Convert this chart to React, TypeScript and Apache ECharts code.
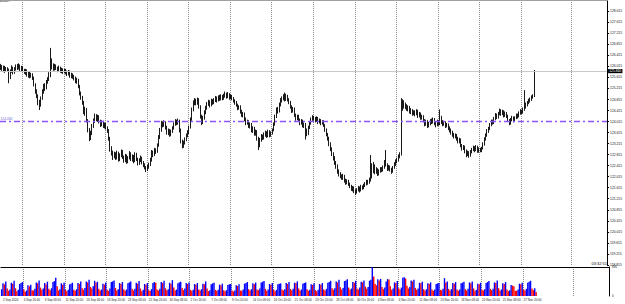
import React, { useEffect, useRef } from 'react';
import * as echarts from 'echarts';

// EURJPY H4 bars: [open, close, low, high], one line per trading day
const candles: number[][] = [
[125.95,126.02,125.88,126.10],[126.02,125.92,125.85,126.06],[125.92,125.98,125.80,126.04],[125.98,125.86,125.78,126.03],[125.86,125.94,125.82,125.99],
[125.94,125.90,125.84,125.98],[125.90,125.62,125.40,125.93],[125.62,125.85,125.55,125.90],[125.85,125.96,125.78,126.05],[125.96,125.80,125.72,126.00],[125.80,125.92,125.74,125.98],
[125.92,126.02,125.86,126.08],[126.02,125.94,125.88,126.10],[125.94,126.05,125.90,126.12],[126.05,125.90,125.84,126.08],[125.90,125.98,125.82,126.03],[125.98,125.88,125.80,126.02],
[125.88,125.80,125.74,125.92],[125.80,125.86,125.70,125.92],[125.86,125.72,125.64,125.90],[125.72,125.78,125.60,125.84],[125.78,125.66,125.58,125.82],[125.66,125.72,125.60,125.78],
[125.72,125.60,125.52,125.76],[125.60,125.35,125.28,125.64],[125.35,125.10,125.02,125.40],[125.10,124.95,124.86,125.18],[124.95,124.70,124.60,125.00],[124.70,124.62,124.43,124.80],
[124.62,124.85,124.55,124.92],[124.85,125.10,124.80,125.18],[125.10,125.30,125.02,125.38],[125.30,125.22,125.12,125.40],[125.22,125.45,125.18,125.52],[125.45,125.55,125.38,125.62],
[125.55,125.70,125.48,125.80],[125.70,126.15,125.62,126.68],[126.15,126.05,125.90,126.30],[126.05,125.92,125.85,126.12],[125.92,126.02,125.86,126.10],[126.02,125.95,125.88,126.08],
[125.95,125.88,125.80,126.00],[125.88,125.96,125.82,126.04],[125.96,125.84,125.78,126.00],[125.84,125.90,125.76,125.96],[125.90,125.82,125.74,125.94],[125.82,125.88,125.76,125.92],
[125.88,125.80,125.72,125.92],[125.80,125.74,125.66,125.86],[125.74,125.82,125.68,125.88],[125.82,125.68,125.60,125.86],[125.68,125.72,125.58,125.78],[125.72,125.64,125.56,125.76],
[125.64,125.58,125.50,125.70],[125.58,125.48,125.40,125.64],[125.48,125.52,125.38,125.60],[125.52,125.30,125.22,125.56],[125.30,125.05,124.96,125.34],[125.05,124.88,124.80,125.10],
[124.88,124.70,124.62,124.94],[124.70,124.35,124.28,124.76],[124.35,124.45,124.22,124.55],[124.45,124.05,123.98,124.50],[124.05,123.70,123.62,124.10],[123.70,123.45,123.30,123.78],
[123.45,123.60,123.34,123.68],[123.60,123.85,123.52,123.92],[123.85,124.05,123.78,124.12],[124.05,124.22,123.96,124.30],[124.22,124.10,124.02,124.28],[124.10,124.18,124.00,124.26],
[124.18,124.02,123.94,124.24],[124.02,123.90,123.82,124.08],[123.90,124.00,123.84,124.06],[124.00,123.85,123.78,124.04],[123.85,123.92,123.76,123.98],[123.92,123.80,123.72,123.96],
[123.80,123.70,123.60,123.84],[123.70,123.40,123.32,123.74],[123.40,123.05,122.92,123.46],[123.05,122.90,122.78,123.12],[122.90,122.75,122.62,122.96],[122.75,122.85,122.68,122.92],
[122.85,122.70,122.62,122.90],[122.70,122.88,122.64,122.96],[122.88,122.65,122.56,122.92],[122.65,122.80,122.58,122.86],[122.80,122.92,122.72,123.00],[122.92,122.72,122.66,122.98],
[122.72,122.60,122.52,122.78],[122.60,122.78,122.54,122.84],[122.78,122.55,122.48,122.82],[122.55,122.70,122.50,122.76],[122.70,122.86,122.64,122.94],[122.86,122.64,122.58,122.90],
[122.64,122.75,122.56,122.82],[122.75,122.58,122.50,122.80],[122.58,122.82,122.54,122.90],[122.82,122.66,122.58,122.88],[122.66,122.50,122.42,122.70],[122.50,122.62,122.44,122.68],
[122.62,122.70,122.54,122.78],[122.70,122.52,122.46,122.74],[122.52,122.45,122.36,122.58],[122.45,122.35,122.28,122.50],[122.35,122.28,122.18,122.40],[122.28,122.38,122.22,122.44],
[122.38,122.45,122.30,122.52],[122.45,122.62,122.40,122.70],[122.62,122.90,122.56,122.98],[122.90,122.80,122.72,122.96],[122.80,122.98,122.76,123.06],[122.98,122.92,122.84,123.04],
[122.92,123.15,122.88,123.22],[123.15,123.45,123.10,123.52],[123.45,123.70,123.38,123.78],[123.70,123.95,123.64,124.04],[123.95,123.88,123.80,124.02],[123.88,123.98,123.82,124.06],
[123.98,123.80,123.72,124.02],[123.80,123.62,123.54,123.86],[123.62,123.70,123.52,123.76],[123.70,123.55,123.46,123.74],[123.55,123.66,123.48,123.72],[123.66,123.78,123.60,123.84],
[123.78,123.92,123.72,123.98],[123.92,124.02,123.86,124.10],[124.02,123.95,123.88,124.08],[123.95,124.05,123.90,124.12],[124.05,123.70,123.62,124.08],[123.70,123.30,123.22,123.76],
[123.30,123.12,123.04,123.36],[123.12,123.25,123.06,123.32],[123.25,123.38,123.18,123.44],[123.38,123.50,123.30,123.58],[123.50,123.62,123.44,123.70],[123.62,123.80,123.56,123.86],
[123.80,124.10,123.76,124.16],[124.10,124.45,124.04,124.52],[124.45,124.70,124.38,124.78],[124.70,124.78,124.60,124.86],[124.78,124.68,124.60,124.84],[124.68,124.80,124.62,124.88],
[124.80,124.55,124.48,124.86],[124.55,124.20,124.12,124.60],[124.20,123.98,123.88,124.26],[123.98,124.15,123.92,124.22],[124.15,124.35,124.08,124.42],[124.35,124.50,124.28,124.58],
[124.50,124.65,124.44,124.72],[124.65,124.72,124.58,124.80],[124.72,124.60,124.52,124.78],[124.60,124.76,124.56,124.84],[124.76,124.70,124.62,124.82],[124.70,124.80,124.64,124.86],
[124.80,124.86,124.72,124.94],[124.86,124.78,124.70,124.92],[124.78,124.90,124.74,124.96],[124.90,124.82,124.76,124.98],[124.82,124.92,124.78,125.00],[124.92,124.85,124.78,124.98],
[124.85,124.95,124.80,125.02],[124.95,125.02,124.88,125.10],[125.02,124.90,124.84,125.06],[124.90,125.00,124.86,125.08],[125.00,124.88,124.80,125.04],[124.88,124.95,124.82,125.00],
[124.95,124.85,124.78,124.98],[124.85,124.78,124.70,124.90],[124.78,124.70,124.62,124.82],[124.70,124.62,124.55,124.76],[124.62,124.50,124.42,124.66],[124.50,124.55,124.44,124.60],
[124.55,124.38,124.30,124.60],[124.38,124.25,124.18,124.44],[124.25,124.30,124.16,124.36],[124.30,124.10,124.02,124.34],[124.10,123.95,123.88,124.16],[123.95,124.02,123.90,124.08],
[124.02,123.85,123.78,124.06],[123.85,123.92,123.76,123.98],[123.92,123.70,123.62,123.96],[123.70,123.78,123.60,123.84],[123.78,123.58,123.50,123.82],[123.58,123.65,123.50,123.72],
[123.65,123.40,123.32,123.70],[123.40,123.15,122.98,123.46],[123.15,123.35,123.08,123.42],[123.35,123.48,123.28,123.56],[123.48,123.42,123.34,123.54],[123.42,123.55,123.36,123.62],
[123.55,123.62,123.46,123.68],[123.62,123.50,123.42,123.66],[123.50,123.66,123.44,123.72],[123.66,123.52,123.44,123.70],[123.52,123.60,123.46,123.66],[123.60,123.70,123.54,123.76],
[123.70,123.92,123.66,123.98],[123.92,124.20,123.86,124.26],[124.20,124.45,124.14,124.52],[124.45,124.38,124.30,124.54],[124.38,124.62,124.34,124.70],[124.62,124.78,124.56,124.86],
[124.78,124.85,124.70,124.92],[124.85,124.92,124.78,125.00],[124.92,124.80,124.74,125.06],[124.80,124.95,124.76,125.02],[124.95,124.82,124.74,124.98],[124.82,124.72,124.64,124.86],
[124.72,124.55,124.48,124.76],[124.55,124.40,124.32,124.60],[124.40,124.48,124.34,124.54],[124.48,124.25,124.18,124.52],[124.25,124.12,124.04,124.30],[124.12,124.20,124.06,124.26],
[124.20,124.08,124.00,124.26],[124.08,123.95,123.88,124.12],[123.95,124.05,123.90,124.10],[124.05,123.88,123.80,124.08],[123.88,123.92,123.78,123.98],[123.92,123.70,123.36,123.96],
[123.70,123.58,123.48,123.76],[123.58,123.80,123.52,123.86],[123.80,123.95,123.74,124.02],[123.95,124.10,123.90,124.16],[124.10,124.18,124.04,124.24],[124.18,124.12,124.04,124.22],
[124.12,124.05,123.98,124.18],[124.05,124.15,124.00,124.20],[124.15,123.98,123.92,124.18],[123.98,124.08,123.94,124.12],[124.08,123.96,123.88,124.10],[123.96,124.02,123.90,124.06],
[124.02,123.88,123.82,124.06],[123.88,123.70,123.64,123.92],[123.70,123.55,123.48,123.76],[123.55,123.40,123.32,123.60],[123.40,123.20,123.12,123.46],[123.20,123.02,122.94,123.26],
[123.02,122.85,122.76,123.08],[122.85,122.70,122.60,122.90],[122.70,122.52,122.44,122.76],[122.52,122.40,122.30,122.58],[122.40,122.22,122.12,122.46],[122.22,122.12,122.02,122.28],
[122.12,122.05,121.96,122.18],[122.05,121.98,121.90,122.10],[121.98,122.04,121.90,122.12],[122.04,121.88,121.80,122.08],[121.88,121.80,121.72,121.94],[121.80,121.86,121.74,121.92],
[121.86,121.75,121.68,121.90],[121.75,121.68,121.60,121.80],[121.68,121.58,121.50,121.72],[121.58,121.62,121.48,121.68],[121.62,121.50,121.42,121.66],[121.50,121.45,121.35,121.56],
[121.45,121.55,121.40,121.60],[121.55,121.62,121.48,121.68],[121.62,121.52,121.44,121.66],[121.52,121.66,121.48,121.72],[121.66,121.60,121.54,121.70],[121.60,121.70,121.56,121.76],
[121.70,121.76,121.64,121.82],[121.76,121.85,121.70,121.90],[121.85,121.80,121.72,121.90],[121.80,121.92,121.76,121.98],[121.92,122.10,121.84,122.80],[122.10,122.30,121.95,122.50],
[122.30,122.40,122.14,122.55],[122.40,122.18,122.10,122.46],[122.18,122.28,122.12,122.36],[122.28,122.12,122.04,122.32],[122.12,122.22,122.06,122.28],[122.22,122.30,122.16,122.36],
[122.30,122.25,122.18,122.36],[122.25,122.35,122.20,122.42],[122.35,122.55,122.30,122.62],[122.55,122.45,122.38,122.98],[122.45,122.30,122.22,122.50],[122.30,122.38,122.24,122.44],
[122.38,122.28,122.20,122.42],[122.28,122.20,122.12,122.34],[122.20,122.35,122.16,122.40],[122.35,122.48,122.30,122.54],[122.48,122.58,122.40,122.64],[122.58,122.62,122.50,122.70],
[122.62,122.75,122.56,122.82],[122.75,122.82,122.68,122.90],[122.82,124.55,122.78,124.86],[124.55,124.70,124.40,124.82],[124.70,124.62,124.48,124.78],[124.62,124.58,124.46,124.70],
[124.58,124.48,124.40,124.64],[124.48,124.52,124.38,124.60],[124.52,124.38,124.30,124.58],[124.38,124.42,124.28,124.50],[124.42,124.30,124.22,124.46],[124.30,124.36,124.24,124.42],
[124.36,124.28,124.20,124.42],[124.28,124.40,124.24,124.46],[124.40,124.22,124.14,124.44],[124.22,124.30,124.16,124.36],[124.30,124.15,124.08,124.34],[124.15,124.20,124.08,124.26],
[124.20,124.05,123.98,124.24],[124.05,123.92,123.84,124.10],[123.92,124.02,123.86,124.08],[124.02,123.85,123.78,124.06],[123.85,123.95,123.80,124.00],[123.95,124.05,123.88,124.10],
[124.05,124.00,123.92,124.12],[124.00,124.10,123.94,124.16],[124.10,123.96,123.88,124.14],[123.96,123.88,123.80,124.02],[123.88,124.02,123.84,124.08],[124.02,123.92,123.86,124.06],
[123.92,124.10,123.88,124.45],[124.10,124.00,123.92,124.22],[124.00,123.92,123.84,124.06],[123.92,123.98,123.86,124.04],[123.98,123.86,123.78,124.02],[123.86,123.90,123.80,123.96],
[123.90,123.78,123.70,123.94],[123.78,123.70,123.62,123.84],[123.70,123.62,123.54,123.76],[123.62,123.55,123.46,123.68],[123.55,123.48,123.40,123.60],[123.48,123.52,123.40,123.58],
[123.52,123.40,123.32,123.56],[123.40,123.30,123.22,123.46],[123.30,123.36,123.22,123.42],[123.36,123.15,123.08,123.40],[123.15,123.05,122.96,123.20],[123.05,123.10,122.98,123.16],
[123.10,122.95,122.86,123.14],[122.95,122.82,122.72,123.00],[122.82,122.90,122.76,122.96],[122.90,122.78,122.70,122.94],[122.78,122.92,122.74,122.98],[122.92,123.00,122.86,123.06],
[123.00,123.08,122.94,123.14],[123.08,122.98,122.90,123.12],[122.98,123.10,122.94,123.16],[123.10,122.95,122.88,123.14],[122.95,123.02,122.88,123.08],[123.02,122.96,122.90,123.06],
[122.96,123.05,122.90,123.10],[123.05,123.20,123.00,123.26],[123.20,123.38,123.14,123.44],[123.38,123.52,123.32,123.58],[123.52,123.68,123.46,123.74],[123.68,123.75,123.60,123.82],
[123.75,123.90,123.70,123.96],[123.90,124.02,123.84,124.08],[124.02,123.96,123.90,124.08],[123.96,124.12,123.92,124.18],[124.12,124.25,124.06,124.32],[124.25,124.18,124.10,124.30],
[124.18,124.30,124.12,124.36],[124.30,124.40,124.24,124.48],[124.40,124.28,124.22,124.46],[124.28,124.38,124.24,124.44],[124.38,124.22,124.16,124.42],[124.22,124.32,124.18,124.38],
[124.32,124.20,124.14,124.36],[124.20,124.05,124.00,124.26],[124.05,123.95,123.88,124.10],[123.95,124.08,123.90,124.14],[124.08,124.15,124.02,124.22],[124.15,124.05,123.98,124.20],
[124.05,124.15,124.00,124.20],[124.15,124.25,124.10,124.30],[124.25,124.20,124.12,124.30],[124.20,124.32,124.16,124.38],[124.32,124.40,124.26,124.46],[124.40,124.35,124.28,124.44],
[124.35,124.48,124.30,124.52],[124.48,124.55,124.40,125.15],[124.55,124.62,124.48,124.70],[124.62,124.70,124.56,124.76],[124.70,124.78,124.64,124.84],[124.78,124.82,124.70,124.88],
[124.82,124.90,124.76,124.96],[124.90,124.95,124.84,125.00],[124.95,125.84,124.90,125.88]
];

// tick volumes, one per bar
const volumes: number[] = [
210,390,360,450,230,
160,200,410,380,470,240, 150,190,370,400,430,200, 130,170,330,300,350,180, 170,220,420,390,480,260,
190,230,400,360,440,220, 180,240,430,460,560,300, 170,210,390,350,420,200, 150,190,360,380,410,190,
160,210,400,370,450,240, 190,250,450,420,500,280, 230,300,470,410,440,220, 170,200,380,350,420,190,
160,230,430,450,480,250, 170,210,400,370,430,210, 160,200,390,420,450,220, 170,220,410,380,460,230,
150,190,370,350,400,180, 160,210,400,430,410,200, 170,220,430,400,470,240, 180,210,410,380,490,260,
170,200,390,420,440,250, 180,230,400,370,420,190, 160,190,370,350,400,200, 170,210,380,360,450,230,
150,180,360,390,410,190, 160,190,350,330,380,180, 150,180,340,360,370,170, 140,170,330,310,360,170,
160,200,380,400,430,210, 170,210,390,360,420,200, 180,230,420,440,460,220, 160,200,370,350,400,190,
150,190,360,380,390,200, 170,210,400,370,430,220, 180,220,410,390,450,230, 170,200,380,400,420,210,
160,190,360,340,390,180, 150,190,370,350,400,200, 170,220,410,430,470,240, 190,240,450,420,500,270,
200,250,460,480,520,260, 190,230,430,410,470,230, 200,260,440,420,480,290, 220,280,470,500,895,600,
380,330,520,480,530,280, 210,260,450,520,510,300, 190,230,420,400,460,240, 200,260,560,580,540,320,
230,280,480,450,500,250, 190,230,410,390,440,210, 170,210,390,370,420,200, 160,200,370,390,400,190,
180,220,550,420,450,220, 170,210,400,380,430,200, 160,200,390,410,440,210, 170,220,420,390,450,230,
160,190,380,360,410,190, 170,210,400,430,460,220, 180,220,420,400,480,240, 170,200,390,370,430,200,
150,180,340,320,300,160, 160,200,380,360,410,200, 170,220,410,440,470,230,
180,240,120
];

const xLabels: string[] = [
'2 Sep 2020','4 Sep 20:00','9 Sep 08:00','11 Sep 20:00','16 Sep 08:00','18 Sep 20:00','23 Sep 08:00',
'25 Sep 20:00','30 Sep 08:00','2 Oct 20:00','7 Oct 08:00','9 Oct 20:00','14 Oct 08:00','16 Oct 20:00',
'21 Oct 08:00','23 Oct 20:00','28 Oct 08:00','30 Oct 20:00','4 Nov 08:00','6 Nov 20:00','11 Nov 08:00',
'13 Nov 20:00','18 Nov 08:00','20 Nov 20:00','25 Nov 08:00','27 Nov 20:00'
];

const gridLineBars: number[] = [16, 46, 76, 106, 136, 166, 196, 226, 256, 286, 316, 346, 376, 412];
const totalSlots = 438;
const labelStep = 15;
const priceMin = 118.815;
const priceMax = 128.415;
const priceStep = 0.4;
const volMax = 895;
const lastPrice = 125.84;
const levelPrice = 124.03;
const timerText = '03:32:51';
const symbolText = 'EURJPY';

const FONT = 'Liberation Sans';

export default function App() {
  const ref = useRef<HTMLDivElement>(null);
  useEffect(() => {
    if (!ref.current) return;
    const chart = echarts.init(ref.current, undefined, { renderer: 'svg' });
    const cats = Array.from({ length: totalSlots }, (_, i) => String(i));
    const gridSet = new Set(gridLineBars);
    const splitInterval = (i: number) => gridSet.has(i);
    const volData = volumes.map((v, i) => ({
      value: v,
      itemStyle: { color: i > 0 && v <= volumes[i - 1] ? '#ff0000' : '#0000ff' },
    }));
    const dotted = { color: '#8a8a8a', type: 'dotted' as const, width: 1 };
    chart.setOption({
      animation: false,
      backgroundColor: '#ffffff',
      textStyle: { fontFamily: FONT },
      grid: [
        { left: 0, right: 16, top: 0, height: 265 },
        { left: 0, right: 16, top: 267, height: 29 },
      ],
      xAxis: [
        {
          type: 'category', gridIndex: 0, data: cats, position: 'bottom',
          axisLine: { show: false }, axisTick: { show: false }, axisLabel: { show: false },
          splitLine: { show: true, interval: splitInterval, lineStyle: dotted },
        },
        {
          type: 'category', gridIndex: 0, data: cats, position: 'top',
          axisLine: { show: true, lineStyle: { color: '#a0a0a0', width: 2 } },
          axisTick: { show: false }, axisLabel: { show: false }, splitLine: { show: false },
        },
        {
          type: 'category', gridIndex: 1, data: cats, position: 'bottom',
          axisLine: { show: false }, axisTick: { show: false },
          axisLabel: {
            show: true,
            interval: (i: number) => i % labelStep === 1 && (i - 1) / labelStep < xLabels.length,
            formatter: (_v: string, i: number) => xLabels[(i - 1) / labelStep] ?? '',
            fontSize: 3, color: '#222', align: 'left', margin: 2, fontFamily: FONT,
          },
          splitLine: { show: true, interval: splitInterval, lineStyle: dotted },
        },
        {
          type: 'category', gridIndex: 1, data: cats, position: 'top',
          axisLine: { show: true, lineStyle: { color: '#000', width: 1 } },
          axisTick: { show: false }, axisLabel: { show: false }, splitLine: { show: false },
        },
      ],
      yAxis: [
        {
          type: 'value', gridIndex: 0, position: 'right',
          min: priceMin, max: priceMax, interval: priceStep,
          axisLine: { show: true, lineStyle: { color: '#000', width: 1 } },
          axisTick: { show: true, length: 2, lineStyle: { color: '#000' } },
          axisLabel: {
            fontSize: 3.3, color: '#111', margin: 3, showMaxLabel: false, showMinLabel: true,
            formatter: (v: number) => v.toFixed(3), fontFamily: FONT,
          },
          splitLine: { show: false },
        },
        {
          type: 'value', gridIndex: 1, position: 'right',
          min: 0, max: volMax, interval: volMax,
          axisLine: { show: true, lineStyle: { color: '#000', width: 1 } },
          axisTick: { show: false },
          axisLabel: { fontSize: 3, color: '#111', margin: 3, fontFamily: FONT },
          splitLine: { show: false },
        },
      ],
      series: [
        {
          type: 'candlestick', xAxisIndex: 0, yAxisIndex: 0, data: candles,
          barWidth: 1,
          itemStyle: { color: '#000', color0: '#000', borderColor: '#000', borderColor0: '#000', borderWidth: 0.9 },
          markLine: {
            silent: true, symbol: ['none', 'none'],
            lineStyle: { color: '#c8c8c8', type: 'solid', width: 1 },
            data: [
              {
                yAxis: lastPrice,
                label: {
                  position: 'end', distance: 1, formatter: lastPrice.toFixed(3),
                  backgroundColor: '#000', color: '#fff', fontSize: 3.3, padding: [0.6, 1.2], fontFamily: FONT,
                },
              },
            ],
          },
        },
        {
          type: 'line', xAxisIndex: 0, yAxisIndex: 0, data: [], symbol: 'none',
          color: '#8c52ff',
          markLine: {
            silent: true, symbol: ['none', 'none'],
            lineStyle: { color: '#8c52ff', type: [6, 3, 2, 3], width: 1.3, opacity: 1 },
            data: [
              {
                yAxis: levelPrice,
                label: {
                  position: 'insideStartTop', distance: 0.5, formatter: levelPrice.toFixed(3),
                  color: '#6a6ad0', fontSize: 3.3, fontFamily: FONT,
                },
              },
            ],
          },
        },
        {
          type: 'bar', xAxisIndex: 2, yAxisIndex: 1, data: volData, barCategoryGap: '0%',
        },
      ],
      graphic: [
        { type: 'text', left: 0, top: 0, style: { text: symbolText, fontSize: 2.5, fill: '#000', fontFamily: FONT } },
        { type: 'text', right: 18, top: 261, style: { text: timerText, fontSize: 4, fill: '#000', fontFamily: FONT } },
      ],
    });
    return () => chart.dispose();
  }, []);
  return (
    <div
      ref={ref}
      style={{ position: 'fixed', left: 0, top: 0, width: 625, height: 304, background: '#fff' }}
    />
  );
}
